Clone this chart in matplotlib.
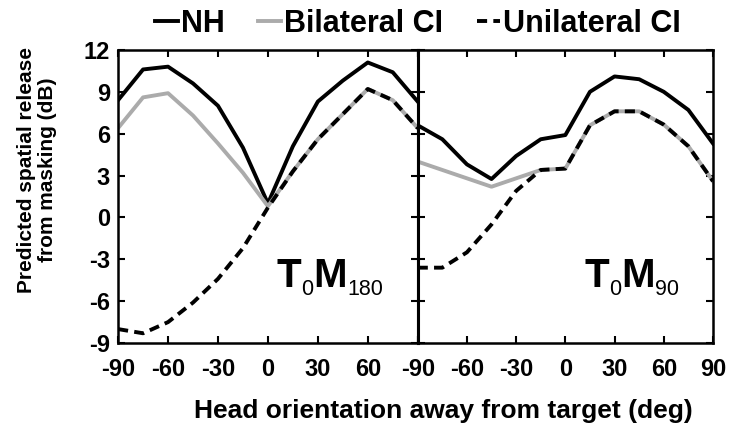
import numpy as np
import matplotlib.pyplot as plt
from matplotlib.transforms import offset_copy

plt.rcParams['font.family'] = 'Liberation Sans'
plt.rcParams['axes.unicode_minus'] = False

angles = [-90, -75, -60, -45, -30, -15, 0, 15, 30, 45, 60, 75, 90]

# T0M180
nh_180 = [8.4, 10.6, 10.8, 9.6, 8.0, 5.0, 1.0, 5.1, 8.3, 9.8, 11.1, 10.4, 8.3]
bi_180 = [6.4, 8.6, 8.9, 7.3, 5.3, 3.2, 0.8, 3.3, 5.6, 7.4, 9.2, 8.4, 6.4]
uni_180 = [-8.0, -8.3, -7.5, -6.1, -4.4, -2.2, 0.7, 3.3, 5.6, 7.4, 9.2, 8.4, 6.4]

# T0M90
nh_90 = [6.6, 5.6, 3.8, 2.75, 4.4, 5.6, 5.9, 9.0, 10.1, 9.9, 9.0, 7.7, 5.3]
bi_90 = [4.0, 3.4, 2.8, 2.2, 2.8, 3.4, 3.5, 6.6, 7.6, 7.6, 6.65, 5.1, 2.6]
uni_90 = [-3.6, -3.6, -2.5, -0.5, 1.9, 3.4, 3.5, 6.6, 7.6, 7.6, 6.65, 5.1, 2.6]

xticks = [-90, -60, -30, 0, 30, 60, 90]
yticks = [-9, -6, -3, 0, 3, 6, 9, 12]

fig = plt.figure(figsize=(7.29, 4.23), dpi=100)
ax1 = fig.add_axes([0.162, 0.189, 0.411, 0.693])
ax2 = fig.add_axes([0.573, 0.189, 0.405, 0.693])
renderer = fig.canvas.get_renderer()


def panel_label(ax, x0, y0, sub):
    # T_0 M_sub built piece by piece (big bold letters, small plain subscripts)
    parts = [('T', 29, 'bold', 0), ('0', 15.5, 'normal', -8),
             ('M', 29, 'bold', 0), (sub, 15.5, 'normal', -8)]
    dx = 0
    for txt, size, weight, dy in parts:
        tr = offset_copy(ax.transAxes, fig, x=dx, y=dy, units='dots')
        t = ax.text(x0, y0, txt, transform=tr, fontsize=size, fontweight=weight,
                    ha='left', va='baseline')
        dx += t.get_window_extent(renderer).width


gray = '#ababab'
dash = (0, (2.6, 1.6))
for ax, nh, bi, uni in [(ax1, nh_180, bi_180, uni_180), (ax2, nh_90, bi_90, uni_90)]:
    ax.plot(angles, nh, color='black', lw=2.8, label='NH')
    ax.plot(angles, bi, color=gray, lw=2.8, label='Bilateral CI')
    ax.plot(angles, uni, color='black', lw=2.8, ls=dash, label='Unilateral CI')
    ax.set_xlim(-90, 90)
    ax.set_ylim(-9, 12)
    ax.set_xticks(xticks)
    ax.set_yticks(yticks)
    ax.tick_params(direction='in', top=True, right=True, length=5, width=1.5,
                   labelsize=17)
    ax.tick_params(axis='x', pad=11)
    ax.tick_params(axis='y', pad=6)
    for lbl in ax.get_xticklabels() + ax.get_yticklabels():
        lbl.set_fontweight('bold')
    for s in ax.spines.values():
        s.set_linewidth(1.8)

ax1.set_xticklabels([str(v) for v in xticks[:-1]] + [''])
ax2.tick_params(labelleft=False)
ax1.spines['right'].set_linewidth(2.2)
ax2.spines['left'].set_linewidth(2.2)

panel_label(ax1, 0.53, 0.191, '180')
panel_label(ax2, 0.566, 0.191, '90')

fig.text(37 / 729, 1 - 170 / 423, 'Predicted spatial release\nfrom masking (dB)',
         rotation=90, ha='center', va='center', multialignment='center',
         fontsize=15, fontweight='bold', linespacing=1.15)
fig.text(0.608, 1 - 418 / 423, 'Head orientation away from target (deg)',
         ha='center', va='baseline', fontsize=19, fontweight='bold')

h, l = ax1.get_legend_handles_labels()
fig.legend(h, l, loc='center', bbox_to_anchor=(0.573, 1 - 24 / 423), ncol=3,
           frameon=False, handlelength=0.75, handletextpad=0.1,
           columnspacing=1.1, borderaxespad=0, borderpad=0,
           prop={'weight': 'bold', 'size': 22})

fig.savefig('out.png', dpi=100)
